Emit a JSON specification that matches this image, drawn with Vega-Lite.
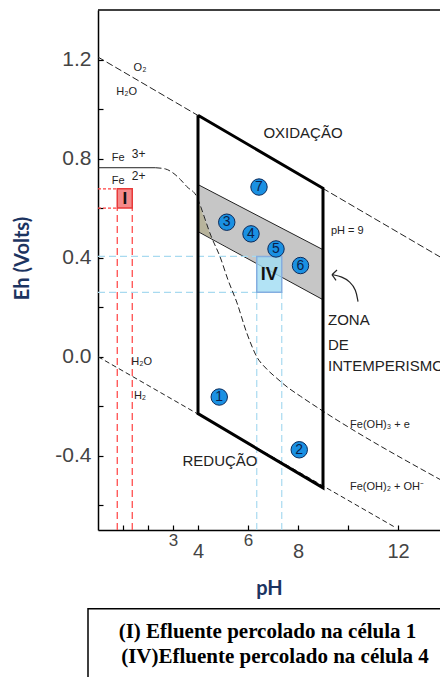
{
  "$schema": "https://vega.github.io/schema/vega-lite/v6.json",
  "autosize": {"type": "none"},
  "padding": {"left": 98, "top": 10, "right": 0, "bottom": 147},
  "width": 342,
  "height": 520,
  "background": "white",
  "config": {"view": {"stroke": null}},
  "datasets": {
    "band": [{"x": 4, "y": 0.695, "y2": 0.63}, {"x": 4.55, "y": 0.666, "y2": 0.477}, {"x": 9, "y": 0.432, "y2": 0.23}],
    "olive": [{"x": 4, "y": 0.63, "y2": 0.505}, {"x": 4.55, "y": 0.477, "y2": 0.477}],
    "edges": [{"g": "t", "x": 4, "y": 0.695}, {"g": "t", "x": 9, "y": 0.432}, {"g": "b", "x": 4, "y": 0.505}, {"g": "b", "x": 9, "y": 0.23}],
    "para": [{"o": 1, "x": 4, "y": 0.975}, {"o": 2, "x": 9, "y": 0.68}, {"o": 3, "x": 9, "y": -0.53}, {"o": 4, "x": 4, "y": -0.23}, {"o": 5, "x": 4, "y": 0.975}],
    "o2": [{"x": 0, "y": 1.21}, {"x": 13.68, "y": 0.403}],
    "h2": [{"x": 0, "y": 0.0}, {"x": 11.9, "y": -0.69}],
    "feSolid": [{"x": 0, "y": 0.763}, {"x": 2.3, "y": 0.763}],
    "feDash": [{"x": 2.3, "y": 0.763}, {"x": 2.7, "y": 0.758}, {"x": 3.0, "y": 0.742}, {"x": 3.3, "y": 0.715}, {"x": 3.55, "y": 0.687}, {"x": 3.95, "y": 0.646}, {"x": 4.0, "y": 0.634}, {"x": 4.55, "y": 0.48}, {"x": 4.88, "y": 0.404}, {"x": 5.2, "y": 0.31}, {"x": 5.55, "y": 0.22}, {"x": 5.95, "y": 0.096}, {"x": 6.35, "y": 0.0}, {"x": 6.75, "y": -0.05}, {"x": 7.15, "y": -0.087}, {"x": 7.6, "y": -0.125}, {"x": 8.1, "y": -0.16}, {"x": 9.0, "y": -0.22}, {"x": 13.7, "y": -0.497}],
    "redH": [{"x": 0, "x2": 0.77, "y": 0.678}, {"x": 0, "x2": 0.77, "y": 0.6}],
    "redV": [{"x": 0.77, "y": -0.7, "y2": 0.6}, {"x": 1.37, "y": -0.7, "y2": 0.6}],
    "blueH": [{"x": 0, "x2": 6.35, "y": 0.405}, {"x": 0, "x2": 6.35, "y": 0.26}],
    "blueV": [{"x": 6.35, "y": -0.7, "y2": 0.26}, {"x": 7.35, "y": -0.7, "y2": 0.26}],
    "boxI": [{"x": 0.77, "x2": 1.37, "y": 0.6, "y2": 0.678, "t": "I", "cx": 1.07, "cy": 0.636}],
    "boxIV": [{"x": 6.35, "x2": 7.35, "y": 0.26, "y2": 0.405, "t": "IV", "cx": 6.85, "cy": 0.33}],
    "pts": [{"n": "1", "x": 4.85, "y": -0.163}, {"n": "2", "x": 8.05, "y": -0.376}, {"n": "3", "x": 5.15, "y": 0.543}, {"n": "4", "x": 6.12, "y": 0.496}, {"n": "5", "x": 7.12, "y": 0.435}, {"n": "6", "x": 8.1, "y": 0.368}, {"n": "7", "x": 6.44, "y": 0.685}],
    "arrow": [{"o": 1, "x": 10.4, "y": 0.222}, {"o": 2, "x": 10.32, "y": 0.271}, {"o": 3, "x": 10.08, "y": 0.303}, {"o": 4, "x": 9.76, "y": 0.323}, {"o": 5, "x": 9.38, "y": 0.331}],
    "arrowHead": [{"x": 9.36, "y": 0.331, "x2": 9.56, "y2": 0.35}, {"x": 9.36, "y": 0.331, "x2": 9.52, "y2": 0.308}],
    "smallC": [{"t": "O₂", "x": 1.68, "y": 1.167}, {"t": "H₂O", "x": 1.15, "y": 1.07}, {"t": "H₂O", "x": 1.75, "y": -0.02}, {"t": "H₂", "x": 1.68, "y": -0.16}, {"t": "Fe(OH)₃ + e", "x": 11.28, "y": -0.275}, {"t": "Fe(OH)₂ + OH⁻", "x": 11.56, "y": -0.525}],
    "smallL": [{"t": "pH = 9", "x": 9.32, "y": 0.506}, {"t": "Fe", "x": 0.55, "y": 0.804}, {"t": "Fe", "x": 0.55, "y": 0.708}],
    "sup": [{"t": "3+", "x": 1.35, "y": 0.82}, {"t": "2+", "x": 1.35, "y": 0.728}],
    "bigC": [{"t": "OXIDAÇÃO", "x": 8.2, "y": 0.903}, {"t": "REDUÇÃO", "x": 4.88, "y": -0.42}],
    "bigL": [{"t": "ZONA", "x": 9.2, "y": 0.149}, {"t": "DE", "x": 9.2, "y": 0.048}, {"t": "INTEMPERISMO", "x": 9.2, "y": -0.039}],
    "frameTop": [{"x": 0, "x2": 13.68, "y": 1.4}],
    "capBox": [{"x": -0.4, "x2": 20, "y": -1.018, "y2": -3}],
    "capText": [{"t": "(I) Efluente percolado na célula 1", "x": 6.78, "y": -1.113}, {"t": "(IV)Efluente percolado na célula 4", "x": 7.08, "y": -1.214}]
  },
  "layer": [
    {
      "data": {"name": "capBox"},
      "mark": {"type": "rect", "fill": "white", "stroke": "black", "strokeWidth": 1.5},
      "encoding": {
        "x": {"field": "x", "type": "quantitative", "scale": {"domain": [0, 13.68], "nice": false, "zero": false},
          "axis": {
            "values": [1, 2, 3, 4, 6, 8, 10, 12],
            "labelExpr": "indexof([3, 4, 6, 8, 12], datum.value) >= 0 ? datum.label : ''",
            "labelFont": "Liberation Sans", "labelColor": "#444",
            "labelFontSize": {"condition": {"test": "datum.value == 3 || datum.value == 6", "value": 17}, "value": 20},
            "labelPadding": {"condition": {"test": "datum.value == 3 || datum.value == 6", "value": 7}, "value": 16},
            "tickSize": -5, "tickColor": "black", "tickWidth": 1.2,
            "domainColor": "black", "domainWidth": 1.5, "grid": false,
            "title": "pH", "titleFont": "Lato", "titleFontSize": 20, "titleFontWeight": "bold", "titleColor": "#1c3461", "titlePadding": 17
          }},
        "x2": {"field": "x2"},
        "y": {"field": "y", "type": "quantitative", "scale": {"domain": [-0.7, 1.4], "nice": false, "zero": false},
          "axis": {
            "values": [-0.6, -0.4, -0.2, 0, 0.2, 0.4, 0.6, 0.8, 1.0, 1.2],
            "labelExpr": "abs(round(datum.value * 10)) % 4 == 0 ? replace(format(datum.value, '.1f'), '−', '-') : ''",
            "labelFont": "Liberation Sans", "labelColor": "#444", "labelFontSize": 21, "labelPadding": 12,
            "tickSize": -5, "tickColor": "black", "tickWidth": 1.2,
            "domainColor": "black", "domainWidth": 1.5, "grid": false,
            "title": "Eh (Volts)", "titleFont": "Lato", "titleFontSize": 20, "titleFontWeight": "bold", "titleColor": "#1c3461", "titlePadding": 22, "titleY": 248
          }},
        "y2": {"field": "y2"}
      }
    },
    {
      "data": {"name": "capText"},
      "mark": {"type": "text", "font": "Liberation Serif", "fontWeight": "bold", "fontSize": 21, "color": "black", "align": "center", "baseline": "middle"},
      "encoding": {"x": {"field": "x", "type": "quantitative"}, "y": {"field": "y", "type": "quantitative"}, "text": {"field": "t"}}
    },
    {
      "data": {"name": "frameTop"},
      "mark": {"type": "rule", "color": "black", "strokeWidth": 1.5},
      "encoding": {"x": {"field": "x", "type": "quantitative"}, "x2": {"field": "x2"}, "y": {"field": "y", "type": "quantitative"}}
    },
    {
      "data": {"name": "band"},
      "mark": {"type": "area", "color": "#c6c6c6", "opacity": 1},
      "encoding": {"x": {"field": "x", "type": "quantitative"}, "y": {"field": "y", "type": "quantitative"}, "y2": {"field": "y2"}}
    },
    {
      "data": {"name": "olive"},
      "mark": {"type": "area", "color": "#b8b49c", "opacity": 1},
      "encoding": {"x": {"field": "x", "type": "quantitative"}, "y": {"field": "y", "type": "quantitative"}, "y2": {"field": "y2"}}
    },
    {
      "data": {"name": "edges"},
      "mark": {"type": "line", "color": "#222", "strokeWidth": 1},
      "encoding": {"x": {"field": "x", "type": "quantitative"}, "y": {"field": "y", "type": "quantitative"}, "detail": {"field": "g"}}
    },
    {
      "data": {"name": "redH"},
      "mark": {"type": "rule", "color": "#ff4040", "strokeWidth": 1.2, "strokeDash": [3, 2]},
      "encoding": {"x": {"field": "x", "type": "quantitative"}, "x2": {"field": "x2"}, "y": {"field": "y", "type": "quantitative"}}
    },
    {
      "data": {"name": "redV"},
      "mark": {"type": "rule", "color": "#ff4040", "strokeWidth": 1.2, "strokeDash": [7, 4]},
      "encoding": {"x": {"field": "x", "type": "quantitative"}, "y": {"field": "y", "type": "quantitative"}, "y2": {"field": "y2"}}
    },
    {
      "data": {"name": "blueH"},
      "mark": {"type": "rule", "color": "#a8daf0", "strokeWidth": 1.2, "strokeDash": [7, 4]},
      "encoding": {"x": {"field": "x", "type": "quantitative"}, "x2": {"field": "x2"}, "y": {"field": "y", "type": "quantitative"}}
    },
    {
      "data": {"name": "blueV"},
      "mark": {"type": "rule", "color": "#a8daf0", "strokeWidth": 1.2, "strokeDash": [7, 4]},
      "encoding": {"x": {"field": "x", "type": "quantitative"}, "y": {"field": "y", "type": "quantitative"}, "y2": {"field": "y2"}}
    },
    {
      "data": {"name": "o2"},
      "mark": {"type": "line", "color": "#222", "strokeWidth": 1, "strokeDash": [7, 3]},
      "encoding": {"x": {"field": "x", "type": "quantitative"}, "y": {"field": "y", "type": "quantitative"}}
    },
    {
      "data": {"name": "h2"},
      "mark": {"type": "line", "color": "#222", "strokeWidth": 1, "strokeDash": [5, 3]},
      "encoding": {"x": {"field": "x", "type": "quantitative"}, "y": {"field": "y", "type": "quantitative"}}
    },
    {
      "data": {"name": "feSolid"},
      "mark": {"type": "line", "color": "#222", "strokeWidth": 1},
      "encoding": {"x": {"field": "x", "type": "quantitative"}, "y": {"field": "y", "type": "quantitative"}}
    },
    {
      "data": {"name": "feDash"},
      "mark": {"type": "line", "color": "#222", "strokeWidth": 1, "strokeDash": [6, 3], "interpolate": "monotone"},
      "encoding": {"x": {"field": "x", "type": "quantitative"}, "y": {"field": "y", "type": "quantitative"}}
    },
    {
      "data": {"name": "para"},
      "mark": {"type": "line", "color": "black", "strokeWidth": 3, "strokeJoin": "miter"},
      "encoding": {"x": {"field": "x", "type": "quantitative"}, "y": {"field": "y", "type": "quantitative"}, "order": {"field": "o"}}
    },
    {
      "data": {"name": "boxI"},
      "mark": {"type": "rect", "fill": "#f58a8a", "stroke": "#e83a3a", "strokeWidth": 1.5},
      "encoding": {"x": {"field": "x", "type": "quantitative"}, "x2": {"field": "x2"}, "y": {"field": "y", "type": "quantitative"}, "y2": {"field": "y2"}}
    },
    {
      "data": {"name": "boxI"},
      "mark": {"type": "text", "font": "Liberation Sans", "fontWeight": "bold", "fontSize": 17, "color": "#111", "align": "center", "baseline": "middle"},
      "encoding": {"x": {"field": "cx", "type": "quantitative"}, "y": {"field": "cy", "type": "quantitative"}, "text": {"field": "t"}}
    },
    {
      "data": {"name": "boxIV"},
      "mark": {"type": "rect", "fill": "#9fdcf2", "fillOpacity": 0.8, "stroke": "#84aee0", "strokeWidth": 1.5},
      "encoding": {"x": {"field": "x", "type": "quantitative"}, "x2": {"field": "x2"}, "y": {"field": "y", "type": "quantitative"}, "y2": {"field": "y2"}}
    },
    {
      "data": {"name": "boxIV"},
      "mark": {"type": "text", "font": "Liberation Sans", "fontWeight": "bold", "fontSize": 18, "color": "#111", "align": "center", "baseline": "middle"},
      "encoding": {"x": {"field": "cx", "type": "quantitative"}, "y": {"field": "cy", "type": "quantitative"}, "text": {"field": "t"}}
    },
    {
      "data": {"name": "pts"},
      "mark": {"type": "point", "shape": "circle", "filled": true, "fill": "#1a90e2", "stroke": "#0b2a5a", "strokeWidth": 1, "size": 270, "opacity": 1},
      "encoding": {"x": {"field": "x", "type": "quantitative"}, "y": {"field": "y", "type": "quantitative"}}
    },
    {
      "data": {"name": "pts"},
      "mark": {"type": "text", "font": "Liberation Sans", "fontSize": 14, "color": "#0b1f4a", "align": "center", "baseline": "middle"},
      "encoding": {"x": {"field": "x", "type": "quantitative"}, "y": {"field": "y", "type": "quantitative"}, "text": {"field": "n"}}
    },
    {
      "data": {"name": "arrow"},
      "mark": {"type": "line", "color": "#222", "strokeWidth": 1.2, "interpolate": "basis"},
      "encoding": {"x": {"field": "x", "type": "quantitative"}, "y": {"field": "y", "type": "quantitative"}, "order": {"field": "o"}}
    },
    {
      "data": {"name": "arrowHead"},
      "mark": {"type": "rule", "color": "#222", "strokeWidth": 1.2},
      "encoding": {"x": {"field": "x", "type": "quantitative"}, "x2": {"field": "x2"}, "y": {"field": "y", "type": "quantitative"}, "y2": {"field": "y2"}}
    },
    {
      "data": {"name": "smallC"},
      "mark": {"type": "text", "font": "Liberation Sans", "fontSize": 11, "color": "#222", "align": "center", "baseline": "middle"},
      "encoding": {"x": {"field": "x", "type": "quantitative"}, "y": {"field": "y", "type": "quantitative"}, "text": {"field": "t"}}
    },
    {
      "data": {"name": "smallL"},
      "mark": {"type": "text", "font": "Liberation Sans", "fontSize": 11, "color": "#222", "align": "left", "baseline": "middle"},
      "encoding": {"x": {"field": "x", "type": "quantitative"}, "y": {"field": "y", "type": "quantitative"}, "text": {"field": "t"}}
    },
    {
      "data": {"name": "sup"},
      "mark": {"type": "text", "font": "Liberation Sans", "fontSize": 12, "color": "#222", "align": "left", "baseline": "middle"},
      "encoding": {"x": {"field": "x", "type": "quantitative"}, "y": {"field": "y", "type": "quantitative"}, "text": {"field": "t"}}
    },
    {
      "data": {"name": "bigC"},
      "mark": {"type": "text", "font": "Liberation Sans", "fontSize": 15, "color": "#222", "align": "center", "baseline": "middle"},
      "encoding": {"x": {"field": "x", "type": "quantitative"}, "y": {"field": "y", "type": "quantitative"}, "text": {"field": "t"}}
    },
    {
      "data": {"name": "bigL"},
      "mark": {"type": "text", "font": "Liberation Sans", "fontSize": 15, "color": "#222", "align": "left", "baseline": "middle"},
      "encoding": {"x": {"field": "x", "type": "quantitative"}, "y": {"field": "y", "type": "quantitative"}, "text": {"field": "t"}}
    }
  ]
}
